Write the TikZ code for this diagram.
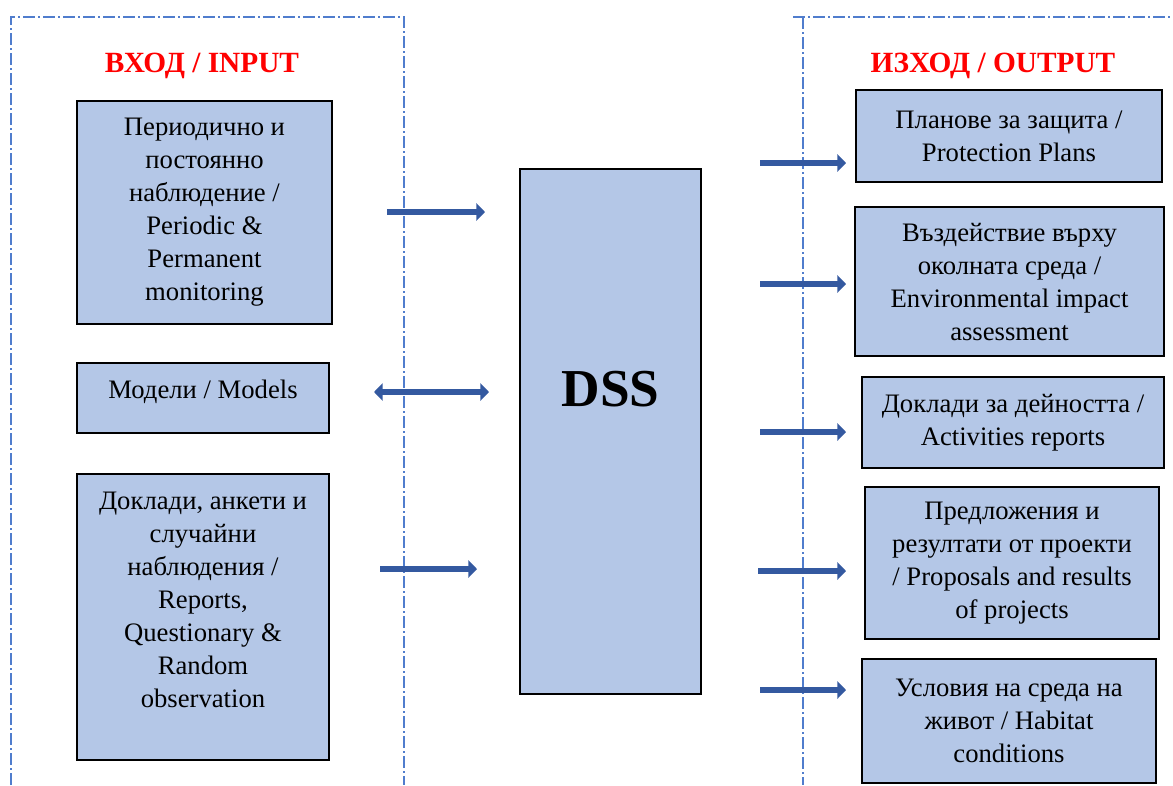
\documentclass[tikz,border=0pt]{standalone}
\usepackage{fontspec}
\setmainfont{Liberation Serif}
\usepackage{xcolor}
\usepackage{tikz}
\usetikzlibrary{calc,arrows.meta}

\definecolor{boxblue}{RGB}{180,199,231}
\definecolor{arrowblue}{RGB}{52,89,160}
\definecolor{frameblue}{RGB}{80,125,205}
\definecolor{titlered}{RGB}{255,0,0}
\newlength{\pxu}\setlength{\pxu}{0.75pt}

\begin{document}
\begin{tikzpicture}[x=0.75pt, y=-0.75pt,
    boxtext/.style={align=center, font=\fontsize{20}{24.75}\selectfont},
    box/.style={boxtext, draw, line width=1pt, fill=boxblue, inner sep=0pt},
    title/.style={text=titlered, font=\fontsize{22}{26}\selectfont\bfseries},
    frame/.style={draw=frameblue, line width=0.8pt, dash pattern=on 9pt off 2.5pt on 1pt off 2.5pt},
    flow/.style={draw=arrowblue, line width=5pt, -{Triangle[length=6.5pt,width=13pt]}},
    flowboth/.style={flow, {Triangle[length=6.5pt,width=13pt]}-{Triangle[length=6.5pt,width=13pt]}}]

  \useasboundingbox (0,0) rectangle (1173,785);

  \draw[frame] (11,785) -- (11,17) -- (404,17) -- (404,785);
  \draw[frame] (793,17) -- (1173,17);
  \draw[frame] (803,17) -- (803,785);

  \node[title] (intitle) at (202,66) {ВХОД / INPUT};
  \node[title] (outtitle) at (993,66) {ИЗХОД / OUTPUT};

  \node[box, minimum width=255*\pxu, minimum height=223*\pxu] (in1) at (204.5,212.5)
    {Периодично и\\постоянно\\наблюдение /\\Periodic \&\\Permanent\\monitoring};
  \node[box, minimum width=252*\pxu, minimum height=70*\pxu] (in2) at (203,398) {};
  \node[boxtext] (in2text) at (203,392) {Модели / Models};
  \node[box, minimum width=252*\pxu, minimum height=286*\pxu] (in3) at (203,617) {};
  \node[boxtext] (in3text) at (203,600)
    {Доклади, анкети и\\случайни\\наблюдения /\\Reports,\\Questionary \&\\Random\\observation};

  \node[box, minimum width=181*\pxu, minimum height=525*\pxu,
    font=\fontsize{40}{44}\selectfont\bfseries] (dss) at (610.5,431.5) {\raisebox{19pt}[0pt][0pt]{DSS}};

  \node[box, minimum width=306*\pxu, minimum height=92*\pxu] (out1) at (1009,136)
    {Планове за защита /\\Protection Plans};
  \node[box, minimum width=309*\pxu, minimum height=149*\pxu] (out2) at (1009.5,281.5)
    {Въздействие върху\\околната среда /\\Environmental impact\\assessment};
  \node[box, minimum width=302*\pxu, minimum height=91*\pxu] (out3) at (1013,422.5)
    {Доклади за дейността /\\Activities reports};
  \node[box, minimum width=294*\pxu, minimum height=152*\pxu] (out4) at (1012,563)
    {Предложения и\\резултати от проекти\\/ Proposals and results\\of projects};
  \node[box, minimum width=294*\pxu, minimum height=124*\pxu] (out5) at (1009,721)
    {Условия на среда на\\живот / Habitat\\conditions};

  \coordinate (in1s) at (387,212);  \coordinate (in1e) at (485,212);
  \coordinate (in2s) at (374,392);  \coordinate (in2e) at (489,392);
  \coordinate (in3s) at (380,569);  \coordinate (in3e) at (477,569);

  \draw[flow] (in1s) -- (in1e);
  \draw[flowboth] (in2s) -- (in2e);
  \draw[flow] (in3s) -- (in3e);

  \foreach \y/\n/\s in {163/out1/760, 284/out2/760, 432/out3/760, 571/out4/758, 690/out5/760} {
    \coordinate (\n s) at (\s,\y);
    \coordinate (\n e) at (846,\y);
    \draw[flow] (\n s) -- (\n e);
  }

\end{tikzpicture}
\end{document}
